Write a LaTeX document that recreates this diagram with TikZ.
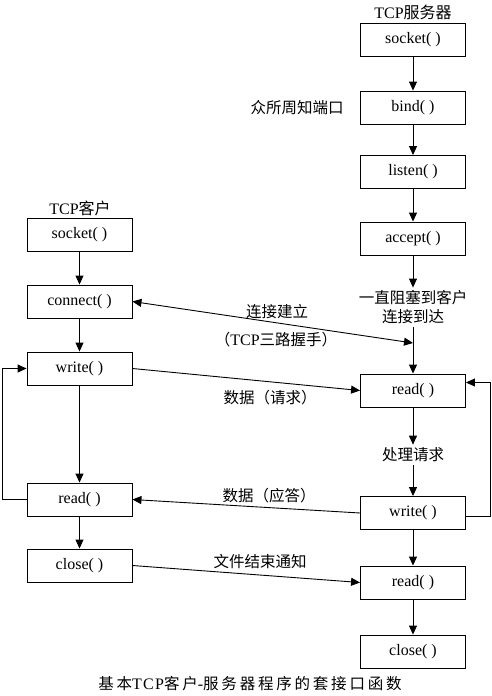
\documentclass[tikz,border=0pt]{standalone}
\usepackage{fontspec}
\setmainfont{Liberation Serif}
\newfontfamily\cjk{Noto Sans CJK SC}
\newfontfamily\cjkwide{Noto Sans CJK SC}[LetterSpace=18]
\newfontfamily\serifwide{Liberation Serif}[LetterSpace=8]
\usetikzlibrary{arrows.meta,calc}
\newcommand{\boxfont}{\fontsize{16}{19}\selectfont}
\newcommand{\lblfont}{\fontsize{15.5}{19}\selectfont\cjk}
\tikzset{
  box/.style={draw, line width=0.9pt, minimum width=105pt, minimum height=33pt, inner sep=0pt, font=\boxfont},
  arr/.style={line width=0.9pt, -{Triangle[length=9pt,width=8pt]}},
  dblarr/.style={line width=0.9pt, {Triangle[length=9pt,width=8pt]}-{Triangle[length=9pt,width=8pt]}},
  lbl/.style={inner sep=0pt, font=\lblfont},
  mid/.style={inner sep=3pt, font=\lblfont, align=center},
}
\begin{document}
\begin{tikzpicture}[x=1pt,y=-1pt]
\useasboundingbox (0,0) rectangle (492,696);
% titles
\node[lbl] (tserv) at (413,12) {\rmfamily\boxfont TCP{\cjk 服务器}};
\node[lbl] (tcli) at (80,208) {\rmfamily\boxfont TCP{\cjk 客户}};
% client boxes
\node[box] (cs) at (79.5,235) {socket( )};
\node[box] (cc) at (79.5,301.5) {connect( )};
\node[box] (cw) at (79.5,368.5) {write( )};
\node[box] (cr) at (79.5,499.5) {read( )};
\node[box] (ccl) at (79.5,565.5) {close( )};
% server boxes
\node[box] (ss) at (413,40) {socket( )};
\node[box] (sb) at (413,107.5) {bind( )};
\node[box] (sl) at (413,172) {listen( )};
\node[box] (sa) at (413,238.5) {accept( )};
\node[mid] (wait) at (413,307.5) {一直阻塞到客户\\连接到达};
\node[box] (sr) at (413,390.5) {read( )};
\node[mid] (proc) at (413,455) {处理请求};
\node[box] (sw) at (413,513) {write( )};
\node[box] (sr2) at (413,582.5) {read( )};
\node[box] (scl) at (413,651.5) {close( )};
\coordinate (j) at (413,343);
% labels
\node[lbl] (lport) at (297,107.5) {众所周知端口};
\node[lbl] (lconn1) at (277,312) {连接建立};
\node[lbl] (lconn2) at (276,340) {（{\rmfamily\boxfont TCP}三路握手）};
\node[lbl] (lreq) at (270,398) {数据（请求）};
\node[lbl] (lresp) at (269,496) {数据（应答）};
\node[lbl] (leof) at (260,562) {文件结束通知};
\node[lbl] (cap) at (250,684) {\cjkwide 基本{\serifwide\boxfont TCP}客户{\serifwide\boxfont -}服务器程序的套接口函数};
% client vertical
\draw[arr] (cs) -- (cc);
\draw[arr] (cc) -- (cw);
\draw[arr] (cw) -- (cr);
\draw[arr] (cr) -- (ccl);
% server vertical
\draw[arr] (ss) -- (sb);
\draw[arr] (sb) -- (sl);
\draw[arr] (sl) -- (sa);
\draw[arr] (sa) -- (wait);
\draw[arr] (wait) -- (sr);
\draw[arr] (sr) -- (proc);
\draw[arr] (proc) -- (sw);
\draw[arr] (sw) -- (sr2);
\draw[arr] (sr2) -- (scl);
% loops
\draw[arr] ($(sw.east)+(0,3)$) -- ++(24,0) |- ($(sr.east)+(0,-8)$);
\draw[arr] (cr.west) -- ++(-24,0) |- (cw.west);
% cross arrows
\draw[dblarr] (cc.east) -- (j);
\draw[arr] (cw.east) -- (sr.west);
\draw[arr] (sw.west) -- (cr.east);
\draw[arr] (ccl.east) -- (sr2.west);
\end{tikzpicture}
\end{document}
